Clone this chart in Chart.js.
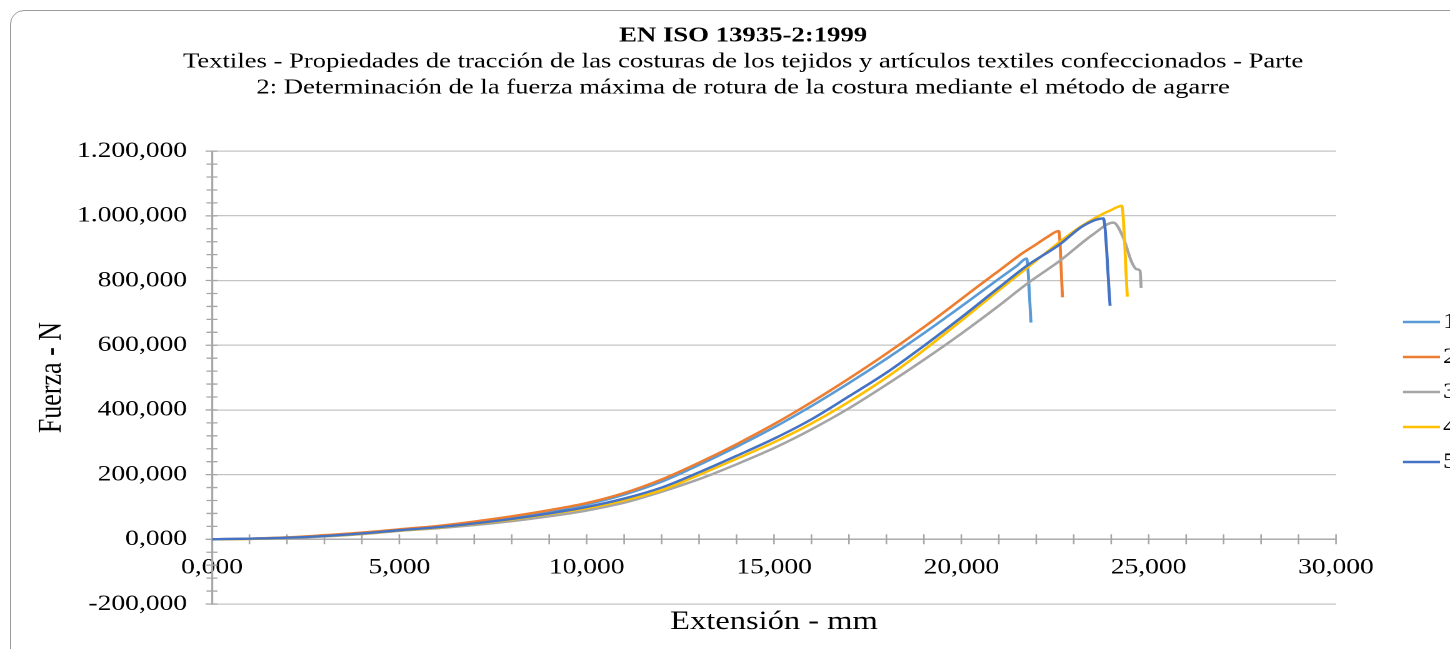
<!DOCTYPE html>
<html><head><meta charset="utf-8">
<script src="https://cdn.jsdelivr.net/npm/chart.js@4.4.1/dist/chart.umd.min.js"></script>
<style>
html,body{margin:0;padding:0;background:#fff;overflow:hidden;width:1450px;height:649px;}
#frame{position:absolute;left:10px;top:10px;width:1500px;height:700px;border:1.3px solid #9a9a9a;border-radius:14px;box-sizing:border-box;}
#wrap{position:absolute;left:0;top:0;width:1189px;height:649px;transform:scaleX(1.25);transform-origin:0 0;}
</style></head><body>
<div id="frame"></div>
<div id="wrap"><canvas id="c"></canvas></div>
<script>
// ---- data ----
const TITLE = 'EN ISO 13935-2:1999';
const SUBTITLE = ['Textiles - Propiedades de tracción de las costuras de los tejidos y artículos textiles confeccionados - Parte',
                  '2: Determinación de la fuerza máxima de rotura de la costura mediante el método de agarre'];
const X_TITLE = 'Extensión - mm';
const Y_TITLE = 'Fuerza - N';
const seriesNames = ['1', '2', '3', '4', '5'];

const s1x = [0,1,2,3,4,5,6,7,8,9,10,11,12,13,14,15,16,17,18,19,20,21,21.5,21.74,21.86];
const s1y = [0,2,5,11,19,29,39,52,68,87,108,138,178,230,286,346,412,483,558,637,720,805,847,868,670];

const s2x = [0,1,2,3,4,5,6,7,8,9,10,11,12,13,14,15,16,17,18,19,20,20.5,21,21.65,22,22.3,22.6,22.7];
const s2y = [0,2,6,13,21,31,41,55,71,90,112,143,185,237,294,356,424,497,574,656,743,787,830,886,912,935,953,748];

const s3x = [0,1,2,3,4,5,6,7,8,9,10,11,12,13,14,15,16,17,18,19,20,21,21.74,22.63,23.52,24.06,24.32,24.55,24.68,24.77,24.8];
const s3y = [0,1,4,9,16,26,34,44,56,71,89,113,147,186,232,282,340,405,478,555,636,722,789,861,943,979,933,856,835,830,777];

const s4x = [0,1,2,3,4,5,6,7,8,9,10,11,12,13,14,15,16,17,18,19,20,21,22,23,23.4,23.79,24,24.28,24.43];
const s4y = [0,1,5,10,17,27,36,48,61,78,96,120,152,199,249,300,358,425,500,585,676,770,862,952,982,1007,1018,1031,750];

const s5x = [0,1,2,3,4,5,6,7,8,9,10,11,12,13,14,15,16,17,18,19,20,21,21.74,22.63,23.25,23.79,23.97];
const s5y = [0,2,5,10,18,28,37,49,63,80,100,126,160,207,258,311,371,442,515,598,686,778,845,912,969,992,722];

const xMin = 0, xMax = 30, xMinorStep = 1, xMajorStep = 5;
const yMin = -200, yMax = 1200, yMinorStep = 40, yMajorStep = 200;

const colors = ['#5b9bd5', '#ed7d31', '#a5a5a5', '#ffc000', '#4472c4'];
// ---------------------------------------------------

const FONT = 'Liberation Serif';
const GRID = '#c4c4c4', AXIS = '#a6a6a6';

function fmtThousands(v){
  const neg = v < 0; v = Math.abs(Math.round(v));
  const s = String(v).replace(/\B(?=(\d{3})+(?!\d))/g, '.');
  return (neg ? '-' : '') + s + ',000';
}
const isMul = (v, m) => Math.abs(v / m - Math.round(v / m)) < 1e-6;

const xs = [s1x, s2x, s3x, s4x, s5x];
const ys = [s1y, s2y, s3y, s4y, s5y];
const datasets = seriesNames.map((n, i) => ({
  label: n,
  data: xs[i].map((x, k) => ({x: x, y: ys[i][k]})),
  borderColor: colors[i],
  backgroundColor: colors[i],
  borderWidth: 2.4,
  pointRadius: 0,
  showLine: true,
  cubicInterpolationMode: 'monotone',
  fill: false,
  order: seriesNames.length - i
}));

const crossTicks = {
  id: 'crossTicks',
  beforeDatasetsDraw(chart){
    const {ctx, scales: {x, y}, chartArea: ca} = chart;
    ctx.save();
    ctx.strokeStyle = AXIS; ctx.lineWidth = 1.3;
    ctx.beginPath();
    y.ticks.forEach(t => {
      const py = y.getPixelForValue(t.value);
      const ext = isMul(t.value, yMajorStep) ? 5.2 : 4.4;
      ctx.moveTo(ca.left - ext, py); ctx.lineTo(ca.left + 4.4, py);
    });
    const y0 = y.getPixelForValue(0);
    x.ticks.forEach(t => {
      const px = x.getPixelForValue(t.value);
      ctx.moveTo(px, y0 - 5); ctx.lineTo(px, y0 + 5);
    });
    ctx.stroke();
    ctx.restore();
  }
};

const extras = {
  id: 'extras',
  afterDraw(chart){
    const {ctx, chartArea: ca} = chart;
    ctx.save();
    ctx.fillStyle = '#000';
    ctx.font = '26px "' + FONT + '"';
    ctx.textAlign = 'center'; ctx.textBaseline = 'middle';
    ctx.fillText(X_TITLE, (ca.left + ca.right) / 2, 622);
    ctx.save();
    ctx.translate(41.6, (ca.top + ca.bottom) / 2);
    ctx.rotate(-Math.PI / 2);
    ctx.fillText(Y_TITLE, 0, 0);
    ctx.restore();
    // legend
    ctx.font = '22px "' + FONT + '"';
    ctx.textAlign = 'left';
    chart.data.datasets.forEach((ds, i) => {
      const yy = 322 + 35 * i;
      ctx.strokeStyle = ds.borderColor; ctx.lineWidth = 2.4;
      ctx.beginPath(); ctx.moveTo(1122.4, yy); ctx.lineTo(1152, yy); ctx.stroke();
      ctx.fillText(ds.label, 1154.4, yy);
    });
    ctx.restore();
  }
};

new Chart(document.getElementById('c'), {
  type: 'scatter',
  data: { datasets },
  plugins: [crossTicks, extras],
  options: {
    responsive: true,
    maintainAspectRatio: false,
    animation: false,
    devicePixelRatio: 2,
    layout: { padding: { top: 0, left: 0, right: 0, bottom: 45 } },
    plugins: {
      legend: { display: false },
      tooltip: { enabled: false },
      title: { display: true, text: TITLE, color: '#000',
        font: { family: FONT, size: 21.4, weight: 'bold', lineHeight: 1.2 },
        padding: { top: 23.2, bottom: 0 } },
      subtitle: { display: true, text: SUBTITLE, color: '#000',
        font: { family: FONT, size: 21.3, lineHeight: 1.22 },
        padding: { top: 0, bottom: 50.3 } }
    },
    scales: {
      x: {
        type: 'linear', min: xMin, max: xMax, position: { y: 0 },
        ticks: { stepSize: xMinorStep, autoSkip: false, maxRotation: 0, padding: 15, color: '#000',
          font: { family: FONT, size: 22 },
          callback: v => isMul(v, xMajorStep) ? fmtThousands(v) : '' },
        grid: { drawTicks: false, drawOnChartArea: false },
        border: { display: true, color: AXIS, width: 1.4 }
      },
      y: {
        type: 'linear', min: yMin, max: yMax, position: 'left',
        afterFit: s => { s.width = 169.6; },
        ticks: { stepSize: yMinorStep, autoSkip: false, padding: 20, color: '#000',
          font: { family: FONT, size: 22 },
          callback: v => isMul(v, yMajorStep) ? fmtThousands(v) : '' },
        grid: { drawTicks: false, lineWidth: 1.3,
          color: c => (c.tick && isMul(c.tick.value, yMajorStep)) ? GRID : 'rgba(0,0,0,0)' },
        border: { display: true, color: AXIS, width: 1.6 }
      },
      yRightSpace: {
        type: 'linear', position: 'right', min: yMin, max: yMax,
        afterFit: s => { s.width = 120.2; },
        ticks: { display: false },
        grid: { display: false, drawOnChartArea: false, drawTicks: false },
        border: { display: false }
      }
    }
  }
});
</script>
</body></html>
